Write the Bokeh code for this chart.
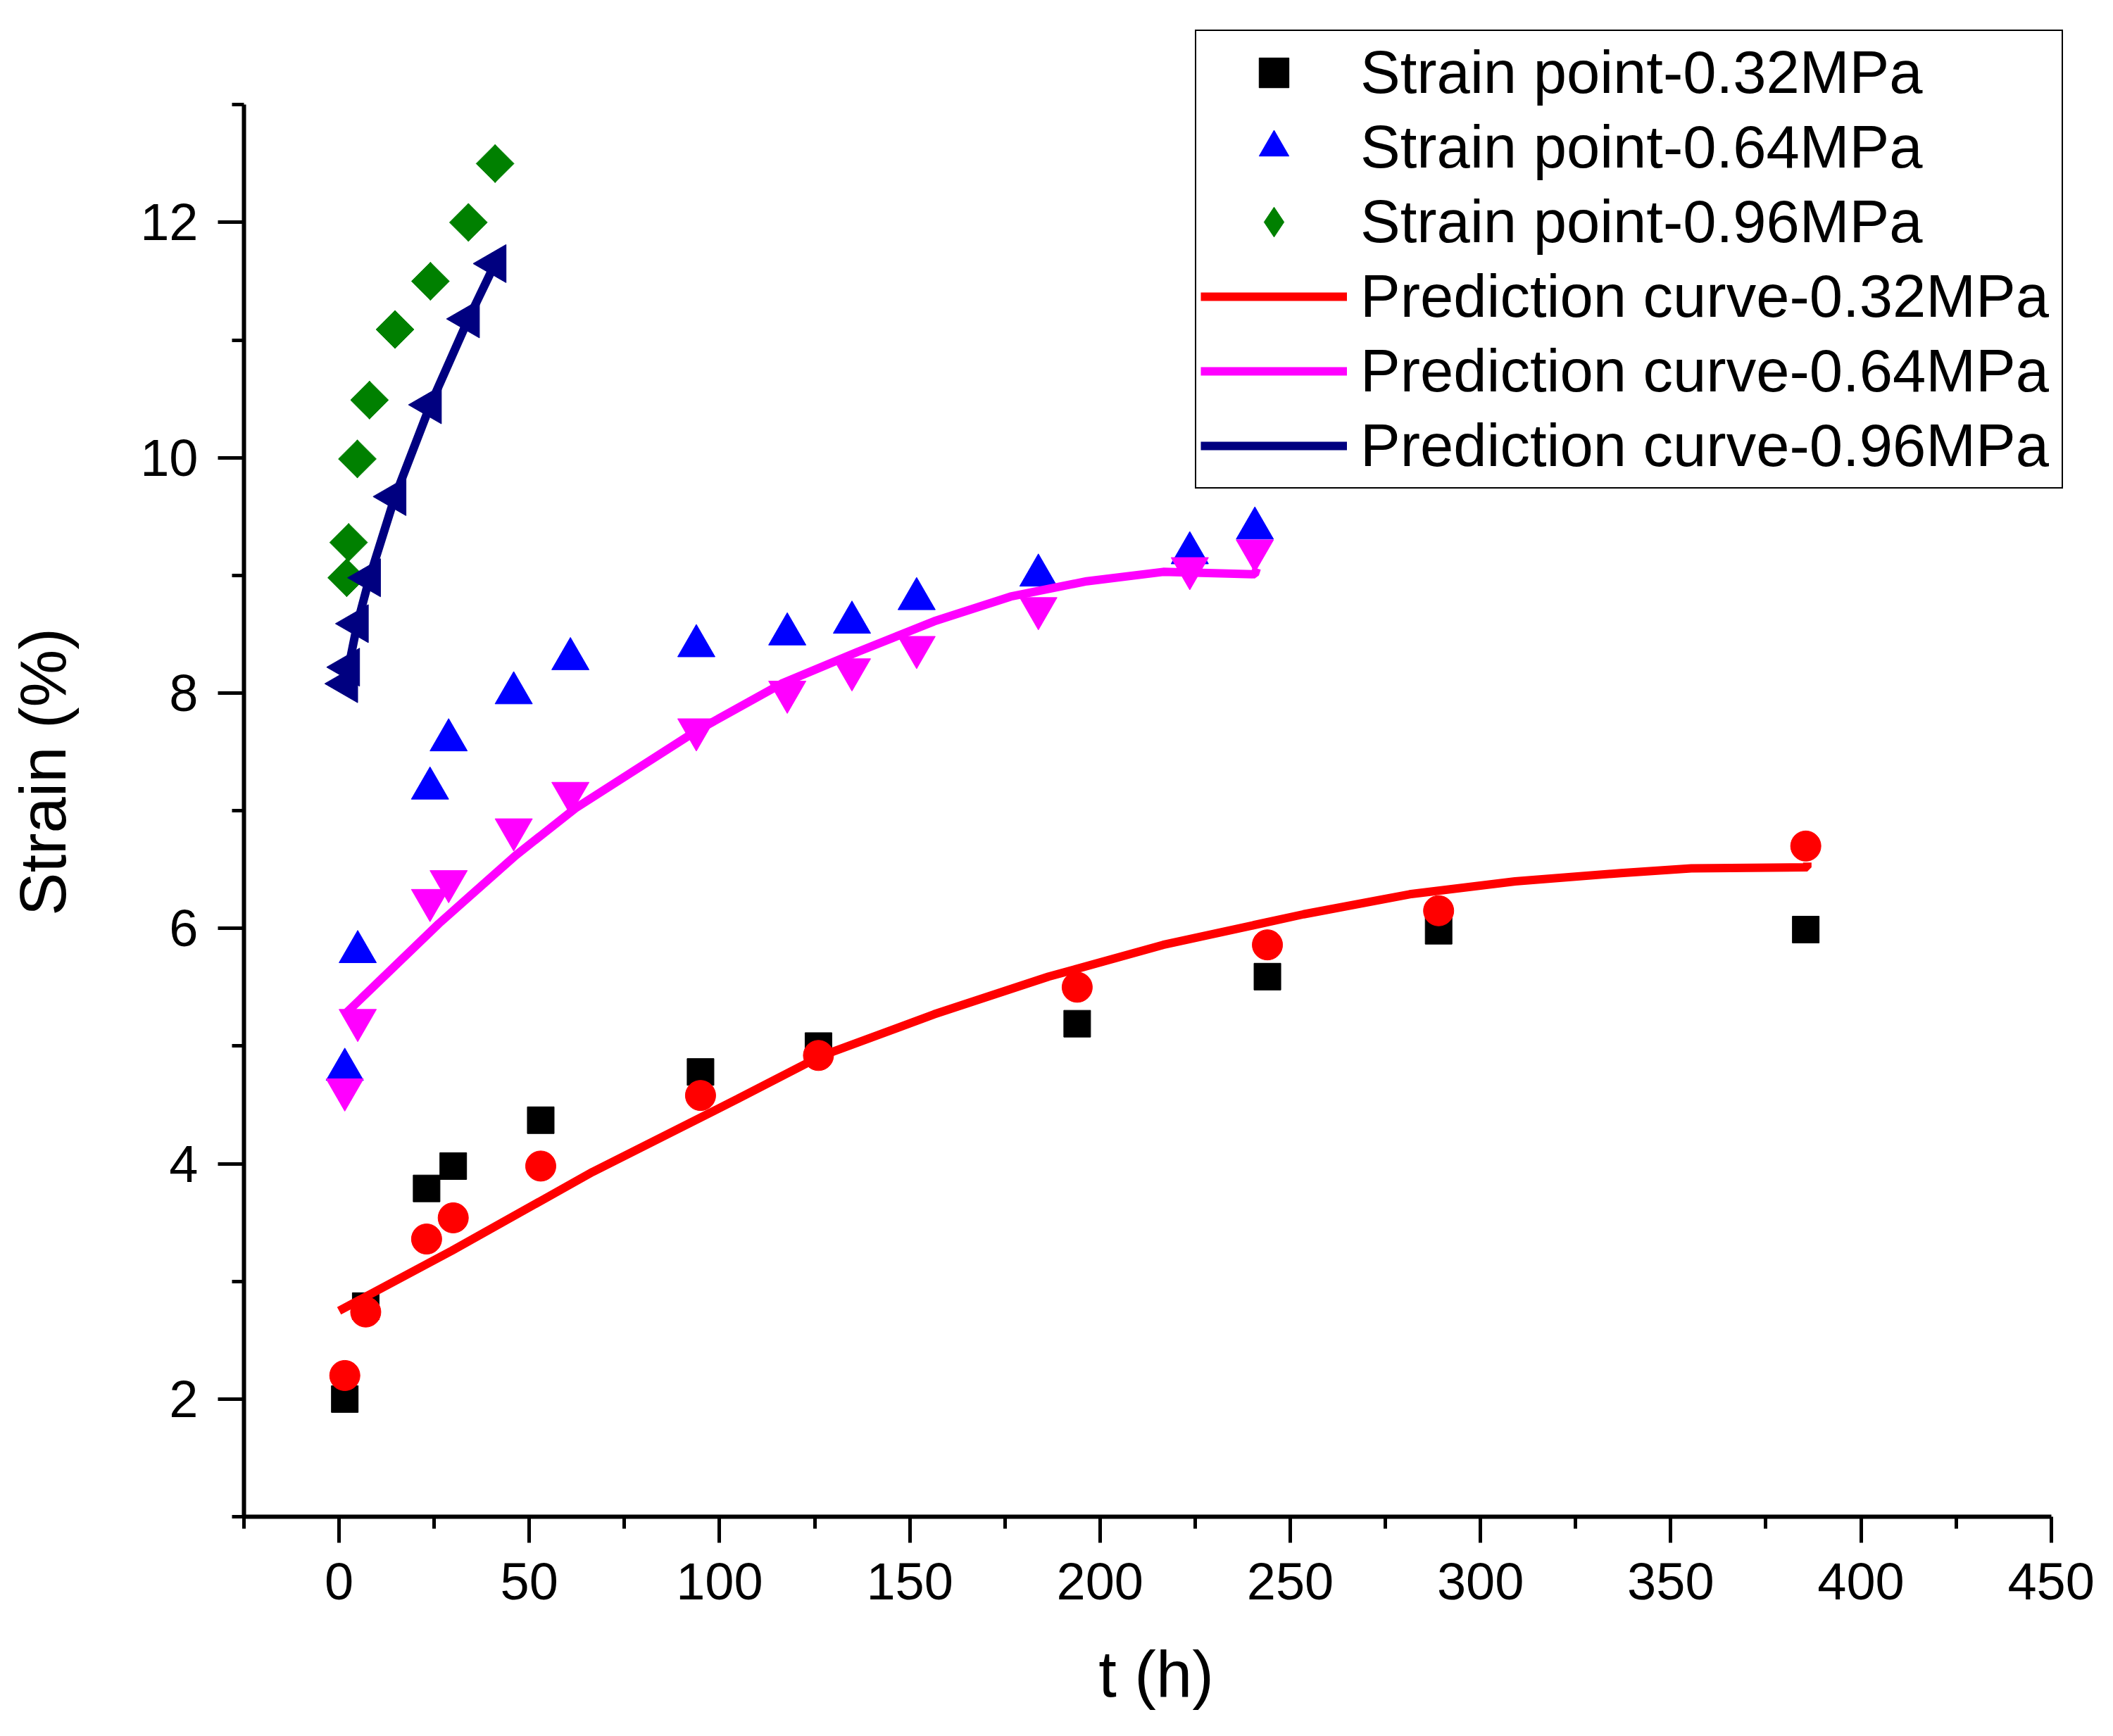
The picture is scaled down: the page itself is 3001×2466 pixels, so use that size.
#!/usr/bin/env python3

import numpy as np
import bokeh.plotting as bkp
from bokeh.models import FixedTicker, Legend, LegendItem, Range1d
from bokeh.embed import file_html
from bokeh.resources import INLINE

FONT = 'Liberation Sans'

# Strain points and prediction points, t in h, strain in %
t_032 = [1.5, 7.0, 23.0, 30.0, 53.0, 95.0, 126.0, 194.0, 244.0, 289.0, 385.5]
strain_032 = [2.00, 2.79, 3.79, 3.98, 4.37, 4.78, 5.00, 5.19, 5.59, 5.98, 5.99]
pred_032 = [2.20, 2.74, 3.36, 3.54, 3.98, 4.58, 4.92, 5.50, 5.86, 6.15, 6.70]

t_064 = [1.5, 4.9, 23.9, 28.8, 45.9, 60.8, 93.9, 117.8, 134.8, 151.8, 183.8, 223.6, 240.7]
strain_064 = [4.80, 5.80, 7.19, 7.60, 8.00, 8.29, 8.40, 8.50, 8.60, 8.80, 9.00, 9.19, 9.40]
pred_064 = [4.63, 5.22, 6.24, 6.40, 6.84, 7.15, 7.69, 8.01, 8.20, 8.39, 8.72, 9.06, 9.21]

t_096 = [2.0, 2.5, 4.8, 8.0, 14.7, 24.0, 34.0, 41.0]
strain_096 = [8.98, 9.28, 9.99, 10.49, 11.09, 11.50, 12.00, 12.50]
pred_096 = [8.08, 8.22, 8.59, 8.98, 9.67, 10.45, 11.18, 11.65]

# Prediction curves
curve_t_032 = [0.0, 29.6, 66.6, 104.7, 126.3, 156.4, 186.5, 216.6, 253.5, 281.4, 309.1, 336.9, 355.4, 385.9, 385.9]
curve_032 = [2.75, 3.26, 3.93, 4.55, 4.91, 5.27, 5.59, 5.86, 6.12, 6.29, 6.40, 6.47, 6.51, 6.52, 6.56]

curve_t_064 = [1.5, 26.2, 46.4, 62.1, 93.5, 116.3, 136.3, 156.4, 176.5, 196.5, 216.6, 240.7, 241.2]
curve_064 = [5.27, 6.04, 6.62, 7.02, 7.67, 8.08, 8.35, 8.61, 8.82, 8.95, 9.03, 9.01, 9.06]

# Axis ticks
x_ticks = [0, 50, 100, 150, 200, 250, 300, 350, 400, 450]
x_minor = [-25, 25, 75, 125, 175, 225, 275, 325, 375, 425]
y_ticks = [2, 4, 6, 8, 10, 12]
y_minor = [1, 3, 5, 7, 9, 11, 13]


def make_figure():
    # The frame reaches a little past the axes (top and right) so that the
    # legend, which sticks out over the axes' ends, is not clipped.
    p = bkp.figure(
        width=2985, height=2450,
        output_backend='svg', toolbar_location=None,
        x_range=Range1d(-25, 454.5), y_range=Range1d(1, 13.66),
        min_border_left=346, min_border_right=48,
        min_border_top=38, min_border_bottom=296,
        x_axis_label='t (h)', y_axis_label='Strain (%)',
    )
    p.outline_line_color = None
    p.grid.visible = False
    p.background_fill_color = 'white'

    p.xaxis.ticker = FixedTicker(ticks=x_ticks, minor_ticks=x_minor)
    p.yaxis.ticker = FixedTicker(ticks=y_ticks, minor_ticks=y_minor)
    p.xaxis.bounds = (-25, 450)
    p.yaxis.bounds = (1, 13)

    for ax in (p.xaxis, p.yaxis):
        ax.axis_line_width = 6
        ax.major_tick_line_width = 5
        ax.minor_tick_line_width = 5
        ax.major_tick_in = 0
        ax.major_tick_out = 37
        ax.minor_tick_in = 0
        ax.minor_tick_out = 17
        ax.major_label_text_font = FONT
        ax.major_label_text_font_size = '74px'
        ax.major_label_text_color = 'black'
        ax.axis_label_text_font = FONT
        ax.axis_label_text_font_size = '92px'
        ax.axis_label_text_font_style = 'normal'
        ax.axis_label_text_color = 'black'
    p.xaxis.major_label_standoff = 29
    p.yaxis.major_label_standoff = 28
    p.xaxis.axis_label_standoff = 52
    p.yaxis.axis_label_standoff = 84

    # strain points
    sq = p.scatter(t_032, strain_032, marker='square', size=38, color='black')
    tri = p.scatter(t_064, strain_064, marker='triangle', size=53, color='#0000FF')
    # the legend ignores marker angles: a plain diamond (hidden under the
    # rotated squares) stands in for the legend entry
    dia = p.scatter(t_096, strain_096, marker='diamond', size=54, color='#008000')
    p.scatter(t_096, strain_096, marker='square', angle=np.pi / 4, size=38, color='#008000')

    # prediction points
    p.scatter(t_032, pred_032, marker='circle', size=43, color='#FF0000')
    p.scatter(t_064, pred_064, marker='inverted_triangle', size=53, color='#FF00FF')
    p.scatter(t_096, pred_096, marker='triangle', angle=np.pi / 2, size=54, color='#000080')

    # prediction curves
    l1 = p.line(curve_t_032, curve_032, line_width=12, color='#FF0000')
    l2 = p.line(curve_t_064, curve_064, line_width=12, color='#FF00FF')
    l3 = p.line(t_096, pred_096, line_width=12, color='#000080')

    legend = Legend(
        items=[
            LegendItem(label='Strain point-0.32MPa', renderers=[sq]),
            LegendItem(label='Strain point-0.64MPa', renderers=[tri]),
            LegendItem(label='Strain point-0.96MPa', renderers=[dia]),
            LegendItem(label='Prediction curve-0.32MPa', renderers=[l1]),
            LegendItem(label='Prediction curve-0.64MPa', renderers=[l2]),
            LegendItem(label='Prediction curve-0.96MPa', renderers=[l3]),
        ],
        location=(1351, 1460),
        margin=0, padding=6, spacing=0,
        glyph_width=208, glyph_height=106,
        label_height=106, label_width=990, label_standoff=19,
        label_text_font=FONT, label_text_font_size='85px',
        label_text_baseline='middle', label_text_color='black',
        border_line_color='black', border_line_width=2.5, border_line_alpha=1,
        background_fill_color='white', background_fill_alpha=1,
    )
    p.add_layout(legend)

    return p


if __name__ == '__main__':
    p = make_figure()
    open('out.html', 'w').write(file_html(p, INLINE))
